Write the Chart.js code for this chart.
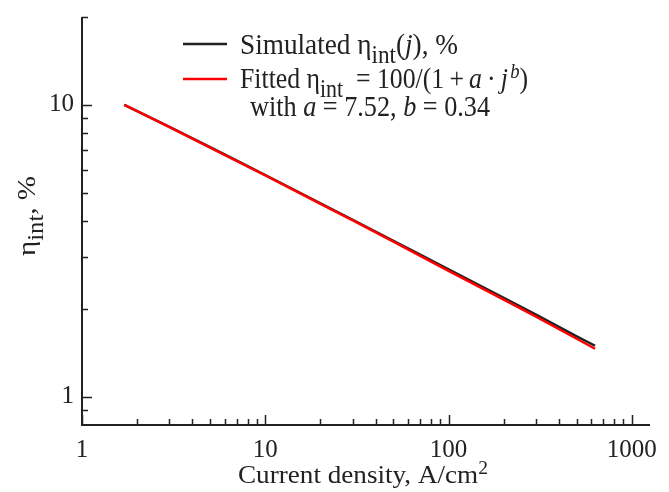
<!DOCTYPE html>
<html>
<head>
<meta charset="utf-8">
<script src="https://cdn.jsdelivr.net/npm/chart.js@4.4.1/dist/chart.umd.min.js"></script>
<style>
  html, body { margin: 0; padding: 0; background: #fff; }
  #wrap { width: 669px; height: 492px; }
</style>
</head>
<body>
<div id="wrap"><canvas id="chart" width="669" height="492"></canvas></div>
<script>
// current density j, A/cm^2
const currentDensity = [1.7, 2, 3, 5, 7, 10, 20, 30, 50, 70, 100, 200, 300, 500, 630];
// simulated internal efficiency, %
const simulatedEta = [10.0, 9.52, 8.40, 7.16, 6.44, 5.75, 4.60, 4.04, 3.42, 3.07, 2.73, 2.18, 1.91, 1.61, 1.495];
// fitted 100/(1+a*j^b), a = 7.52, b = 0.34
const fittedEta = [9.99, 9.51, 8.39, 7.14, 6.42, 5.73, 4.58, 4.02, 3.40, 3.04, 2.70, 2.15, 1.88, 1.58, 1.46];

const xTicks = [1, 2, 3, 4, 5, 6, 7, 8, 9, 10, 20, 30, 40, 50, 60, 70, 80, 90,
  100, 200, 300, 400, 500, 600, 700, 800, 900, 1000];
const xLabels = [1, 10, 100, 1000];
const yTicks = [0.9, 1, 2, 3, 4, 5, 6, 7, 8, 9, 10, 20];
const yLabels = [1, 10];

const FONT = '"Liberation Serif", "Times New Roman", serif';
const INK = '#222';

function setFont(ctx, p, size) {
  const s = p.sub ? size * 0.85 : p.sup ? size * 0.72 : size;
  ctx.font = (p.it ? 'italic ' : '') + s + 'px ' + FONT;
}
function richWidth(ctx, parts, size) {
  let w = 0;
  parts.forEach(p => { setFont(ctx, p, size); w += ctx.measureText(p.t).width; });
  return w;
}
// draws text made of pieces (italic / sub / sup), squeezed to a given width
function drawRich(ctx, x, y, parts, size, width) {
  const k = width / richWidth(ctx, parts, size);
  ctx.save();
  ctx.translate(x, y);
  ctx.scale(k, 1);
  let cx = 0;
  parts.forEach(p => {
    setFont(ctx, p, size);
    const dy = p.sub ? size * 0.3 : p.sup ? -size * 0.36 : 0;
    ctx.fillText(p.t, cx, dy);
    cx += ctx.measureText(p.t).width;
  });
  ctx.restore();
}

const axesAndText = {
  id: 'axesAndText',
  afterDraw(chart) {
    const { ctx, chartArea } = chart;
    const xs = chart.scales.x, ys = chart.scales.y;
    ctx.save();
    ctx.strokeStyle = INK;
    ctx.fillStyle = INK;

    // axis lines
    ctx.lineWidth = 2;
    ctx.beginPath();
    ctx.moveTo(chartArea.left, chartArea.top);
    ctx.lineTo(chartArea.left, chartArea.bottom);
    ctx.lineTo(chartArea.right, chartArea.bottom);
    ctx.stroke();

    // inward ticks
    ctx.lineWidth = 1.5;
    ctx.beginPath();
    xTicks.forEach(v => {
      const px = Math.round(xs.getPixelForValue(v)) + 0.5;
      const len = xLabels.includes(v) ? 10 : 6;
      ctx.moveTo(px, chartArea.bottom);
      ctx.lineTo(px, chartArea.bottom - len);
    });
    yTicks.forEach(v => {
      const py = Math.round(ys.getPixelForValue(v)) + 0.5;
      const len = yLabels.includes(v) ? 10 : 6;
      ctx.moveTo(chartArea.left, py);
      ctx.lineTo(chartArea.left + len, py);
    });
    ctx.stroke();

    ctx.textBaseline = 'alphabetic';
    ctx.textAlign = 'left';

    // legend
    ctx.lineWidth = 2.5;
    ctx.strokeStyle = INK;
    ctx.beginPath(); ctx.moveTo(183, 44); ctx.lineTo(227, 44); ctx.stroke();
    ctx.strokeStyle = '#ff0000';
    ctx.beginPath(); ctx.moveTo(183, 79); ctx.lineTo(227, 79); ctx.stroke();

    const ls = 29;
    drawRich(ctx, 240, 54, [
      { t: 'Simulated η' }, { t: 'int', sub: true }, { t: '(' }, { t: 'j', it: true }, { t: '), %' }
    ], ls, 218);
    drawRich(ctx, 240, 88, [
      { t: 'Fitted η' }, { t: 'int', sub: true }, { t: '\u2002= 100/(1\u2009+\u2009' }, { t: 'a', it: true },
      { t: '\u2009·\u2009' }, { t: 'j', it: true }, { t: '\u200a' }, { t: 'b', it: true, sup: true }, { t: ')' }
    ], ls, 288);
    drawRich(ctx, 250, 116, [
      { t: 'with ' }, { t: 'a', it: true }, { t: ' = 7.52, ' }, { t: 'b', it: true }, { t: ' = 0.34' }
    ], ls, 240);

    // x axis title
    const ts = 26;
    drawRich(ctx, 238, 483, [{ t: 'Current density, A/cm' }, { t: '2', sup: true }], ts, 250);

    // y axis title
    ctx.save();
    ctx.translate(35, 256);
    ctx.rotate(-Math.PI / 2);
    drawRich(ctx, 0, 0, [{ t: 'η' }, { t: 'int', sub: true }, { t: ', %' }], ts, 80);
    ctx.restore();

    ctx.restore();
  }
};

new Chart(document.getElementById('chart'), {
  type: 'line',
  data: {
    datasets: [
      {
        label: 'Simulated',
        data: currentDensity.map((j, i) => ({ x: j, y: simulatedEta[i] })),
        borderColor: INK,
        borderWidth: 2.5,
        pointRadius: 0,
        order: 1
      },
      {
        label: 'Fitted',
        data: currentDensity.map((j, i) => ({ x: j, y: fittedEta[i] })),
        borderColor: '#ff0000',
        borderWidth: 2.5,
        pointRadius: 0,
        order: 0
      }
    ]
  },
  options: {
    responsive: false,
    animation: false,
    layout: { padding: { top: 17, right: 19, left: 0, bottom: 0 } },
    plugins: { legend: { display: false }, tooltip: { enabled: false } },
    scales: {
      x: {
        type: 'logarithmic',
        min: 1,
        max: 1256,
        grid: { display: false, drawTicks: false },
        border: { display: false },
        afterBuildTicks: s => { s.ticks = xLabels.map(v => ({ value: v })); },
        afterFit: s => { s.height = 67; s.paddingLeft = 0; s.paddingRight = 0; },
        ticks: {
          autoSkip: false,
          maxRotation: 0,
          padding: 10,
          color: INK,
          font: { family: FONT, size: 25 },
          callback: v => String(v)
        }
      },
      y: {
        type: 'logarithmic',
        min: 0.8,
        max: 20,
        grid: { display: false, drawTicks: false },
        border: { display: false },
        afterBuildTicks: s => { s.ticks = yLabels.map(v => ({ value: v })); },
        afterFit: s => { s.width = 82; s.paddingTop = 0; s.paddingBottom = 0; },
        ticks: {
          autoSkip: false,
          padding: 8,
          color: INK,
          font: { family: FONT, size: 25 },
          callback: v => String(v)
        }
      }
    }
  },
  plugins: [axesAndText]
});
</script>
</body>
</html>
